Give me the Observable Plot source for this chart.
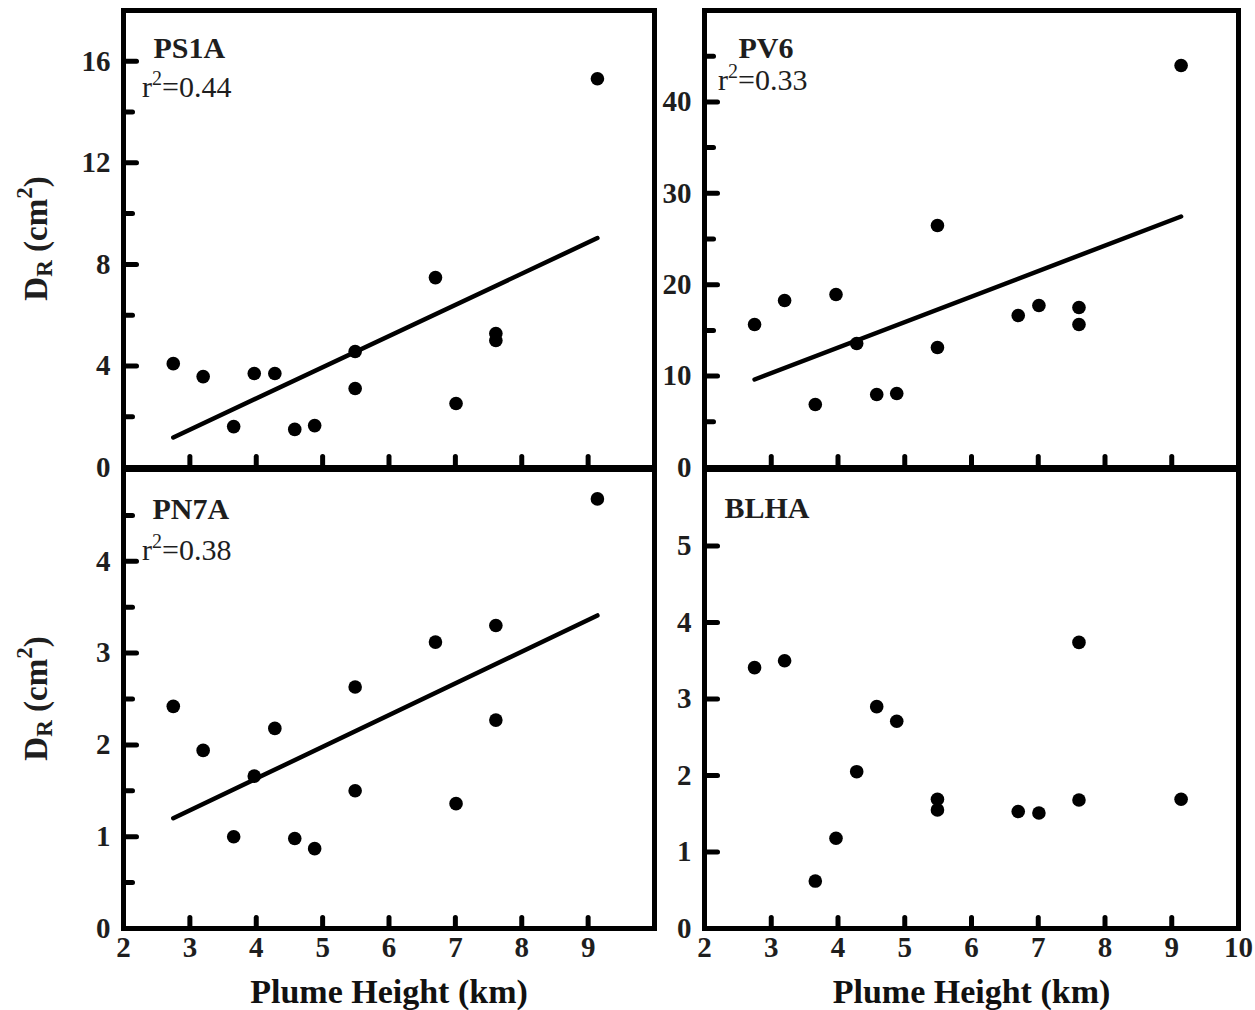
<!DOCTYPE html>
<html><head><meta charset="utf-8">
<script src="https://cdn.jsdelivr.net/npm/d3@7"></script>
<script src="https://cdn.jsdelivr.net/npm/@observablehq/plot@0.6"></script>
<style>
body{margin:0;background:#fff;}
#chart{position:relative;width:1255px;height:1010px;}
#chart svg{position:absolute;left:0;top:0;overflow:visible;}
</style></head><body><div id="chart"></div>
<script>
// ---- data ----
const plumeHeight = [2.75, 3.2, 3.66, 3.97, 4.28, 4.58, 4.88, 5.49, 5.49, 6.7, 7.01, 7.61, 7.61, 9.14];
const ps1a = [4.09, 3.58, 1.61, 3.70, 3.70, 1.50, 1.65, 4.57, 3.11, 7.48, 2.52, 5.28, 5.00, 15.31];
const pv6  = [15.65, 18.27, 6.89, 18.93, 13.57, 7.99, 8.10, 26.48, 13.13, 16.63, 17.72, 17.51, 15.65, 43.98];
const pn7a = [2.42, 1.94, 1.00, 1.66, 2.18, 0.98, 0.87, 2.63, 1.50, 3.12, 1.36, 3.30, 2.27, 4.68];
const blha = [3.41, 3.50, 0.62, 1.18, 2.05, 2.90, 2.71, 1.69, 1.55, 1.53, 1.51, 3.74, 1.68, 1.69];

const panelNames = ["PS1A", "PV6", "PN7A", "BLHA"];
const r2Values = ["0.44", "0.33", "0.38", null];
const panelValues = [ps1a, pv6, pn7a, blha];
const hasFit = [true, true, true, false];
const yDomains = [[0, 18], [0, 50], [0, 5], [0, 6]];
const yTickLabels = [[0, 4, 8, 12, 16], [0, 10, 20, 30, 40], [0, 1, 2, 3, 4], [0, 1, 2, 3, 4, 5]];
const yMajorTicks = [[4, 8, 12, 16], [10, 20, 30, 40], [1, 2, 3, 4], [1, 2, 3, 4, 5]];
const yMinorTicks = [[2, 6, 10, 14], [5, 15, 25, 35, 45], [0.5, 1.5, 2.5, 3.5, 4.5], []];
const xDomain = [2, 10];
const xMajorTicks = [3, 4, 5, 6, 7, 8, 9];
const xTickLabelsLeft = [2, 3, 4, 5, 6, 7, 8, 9];
const xTickLabelsRight = [2, 3, 4, 5, 6, 7, 8, 9, 10];
const xTitle = "Plume Height (km)";
const yTitle = {main: "D", sub: "R", unit: " (cm", sup: "2", close: ")"};

// ---- layout ----
const W = 1255, H = 1010;
const FONT = "'Liberation Serif', 'Times New Roman', serif";
const INK = "#1e1e1e";
const layout = [
  {left: 123, right: 654, top: 10, bottom: 467, nameDx: 30, nameDy: 26, r2x: 142, r2y: 97, xLabels: null, yTitle: true},
  {left: 704, right: 1238, top: 10, bottom: 467, nameDx: 34, nameDy: 26, r2x: 718, r2y: 90, xLabels: null, yTitle: false},
  {left: 123, right: 654, top: 469, bottom: 928, nameDx: 29, nameDy: 28, r2x: 142, r2y: 560, xLabels: xTickLabelsLeft, yTitle: true},
  {left: 704, right: 1238, top: 469, bottom: 928, nameDx: 20, nameDy: 27, r2x: 0, r2y: 0, xLabels: xTickLabelsRight, yTitle: false}
];

// straight tick shape for inward-pointing tick vectors
const tickShape = {draw(context, l) { context.moveTo(0, 0); context.lineTo(0, -l); }};

const chart = document.getElementById("chart");

panelNames.forEach((name, i) => {
  const L = layout[i];
  const data = plumeHeight.map((x, j) => ({x, y: panelValues[i][j]}));
  const marks = [
    Plot.vector(xMajorTicks, {x: d => d, frameAnchor: "bottom", length: 11, rotate: 0, anchor: "start", shape: tickShape, stroke: "#000", strokeWidth: 5}),
    Plot.vector(yMajorTicks[i], {y: d => d, frameAnchor: "left", length: 13, rotate: 90, anchor: "start", shape: tickShape, stroke: "#000", strokeWidth: 5}),
    yMinorTicks[i].length ? Plot.vector(yMinorTicks[i], {y: d => d, frameAnchor: "left", length: 9, rotate: 90, anchor: "start", shape: tickShape, stroke: "#000", strokeWidth: 5}) : null,
    Plot.axisY({ticks: yTickLabels[i], anchor: "left", tickSize: 0, tickPadding: 13, label: null, fontSize: 29, fontWeight: "bold", fill: INK, tickFormat: d => String(d)}),
    L.xLabels ? Plot.axisX({ticks: L.xLabels, anchor: "bottom", tickSize: 0, tickPadding: 8, label: null, fontSize: 29, fontWeight: "bold", fill: INK, tickFormat: d => String(d)}) : null,
    L.xLabels ? Plot.text([xTitle], {text: d => d, frameAnchor: "bottom", dy: 64, lineAnchor: "middle", fontSize: 34, fontWeight: "bold", fill: "#111"}) : null,
    hasFit[i] ? Plot.linearRegressionY(data, {x: "x", y: "y", ci: 0, stroke: "#000", strokeWidth: 4.5}) : null,
    Plot.dot(data, {x: "x", y: "y", r: 6.8, fill: "#000", stroke: null}),
    Plot.text([name], {text: d => d, frameAnchor: "top-left", dx: L.nameDx, dy: L.nameDy, textAnchor: "start", lineAnchor: "top", fontSize: 30, fontWeight: "bold", fill: INK}),
    Plot.frame({stroke: "#000", strokeWidth: 5})
  ].filter(Boolean);

  const svg = Plot.plot({
    width: W, height: H,
    marginLeft: L.left, marginRight: W - L.right,
    marginTop: L.top, marginBottom: H - L.bottom,
    x: L.xLabels ? {domain: xDomain, label: null} : {domain: xDomain, label: null, axis: null},
    y: {domain: yDomains[i], label: null},
    style: {fontFamily: FONT, background: "transparent", overflow: "visible"},
    marks
  });

  if (r2Values[i]) {
    const t = d3.select(svg).append("text")
      .attr("x", L.r2x).attr("y", L.r2y)
      .attr("text-anchor", "start")
      .attr("font-family", FONT).attr("font-size", 30).attr("fill", INK);
    t.append("tspan").text("r");
    t.append("tspan").attr("font-size", 20).attr("dy", -12).text("2");
    t.append("tspan").attr("dy", 12).text("=" + r2Values[i]);
  }

  if (L.yTitle) {
    const cy = (L.top + L.bottom) / 2;
    const t = d3.select(svg).append("text")
      .attr("transform", `translate(39,${cy}) rotate(-90)`)
      .attr("text-anchor", "middle")
      .attr("dominant-baseline", "middle")
      .attr("font-family", FONT)
      .attr("font-size", 33)
      .attr("font-weight", "bold")
      .attr("fill", INK);
    t.append("tspan").text(yTitle.main);
    t.append("tspan").attr("font-size", 23).attr("dy", 8).text(yTitle.sub);
    t.append("tspan").attr("dy", -8).text(yTitle.unit);
    t.append("tspan").attr("font-size", 23).attr("dy", -12).text(yTitle.sup);
    t.append("tspan").attr("dy", 12).text(yTitle.close);
  }
  chart.appendChild(svg);
});
</script>
</body></html>
